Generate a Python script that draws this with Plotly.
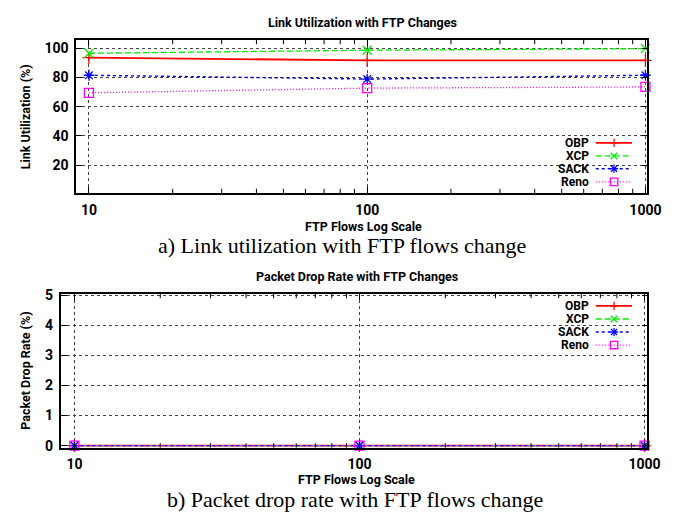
import plotly.graph_objects as go

W, H = 694, 515

flows = [10, 100, 1000]
series_names = ["OBP", "XCP", "SACK", "Reno"]
util_obp = [93.5, 91.7, 91.7]
util_xcp = [96.5, 98.6, 99.7]
util_sack = [81.5, 78.9, 81.5]
util_reno = [69.5, 72.7, 73.5]
drop_obp = [0, 0, 0]
drop_xcp = [0, 0, 0]
drop_sack = [0, 0, 0]
drop_reno = [0, 0, 0]
util_ticks = [20, 40, 60, 80, 100]
drop_ticks = [0, 1, 2, 3, 4, 5]
x_ticks = [10, 100, 1000]
x_minor_ticks = [20, 30, 40, 50, 60, 70, 80, 90, 200, 300, 400, 500, 600, 700, 800, 900]

colors = ["#ff0000", "#00ee00", "#0000ff", "#ff00ff"]
dashes = ["solid", "6px,3px", "3px,3px", "1px,2px"]
symbols = ["cross-thin-open", "x-thin-open", "asterisk-open", "square-open"]
widths = [1.8, 1.3, 1.4, 1.3]

SANS = "Roboto, Liberation Sans, sans-serif"
SERIF = "Liberation Serif, Times New Roman, serif"


def px(x):
    return x / W


def py(y):
    return 1 - y / H


fig = go.Figure()

top_vals = [util_obp, util_xcp, util_sack, util_reno]
bot_vals = [drop_obp, drop_xcp, drop_sack, drop_reno]
for i, name in enumerate(series_names):
    fig.add_trace(go.Scatter(
        x=flows, y=top_vals[i], name=name, mode="lines+markers",
        line=dict(color=colors[i], width=widths[i], dash=dashes[i]),
        marker=dict(symbol=symbols[i], size=9, color=colors[i],
                    line=dict(color=colors[i], width=1.3)),
        xaxis="x", yaxis="y", showlegend=False, cliponaxis=False))
for i, name in enumerate(series_names):
    fig.add_trace(go.Scatter(
        x=flows, y=bot_vals[i], name=name, mode="lines+markers",
        line=dict(color=colors[i], width=widths[i], dash=dashes[i]),
        marker=dict(symbol=symbols[i], size=9, color=colors[i],
                    line=dict(color=colors[i], width=1.3)),
        xaxis="x2", yaxis="y2", showlegend=False, cliponaxis=False))

axis_common = dict(
    showline=True, linecolor="black", linewidth=1.6, mirror="allticks",
    ticks="inside", ticklen=6, tickcolor="black", tickwidth=1.2,
    showgrid=True, gridcolor="#444444", griddash="dot", gridwidth=1,
    zeroline=False,
    tickfont=dict(family=SANS, size=14, color="black", weight="bold"),
)

fig.update_layout(
    width=W, height=H, margin=dict(l=0, r=0, t=0, b=0),
    paper_bgcolor="white", plot_bgcolor="white",
    xaxis=dict(axis_common, type="log", domain=[px(77.7), px(660.7)],
               range=[0.954, 3.007], tickmode="array", tickvals=x_ticks,
               ticktext=[str(v) for v in x_ticks],
               anchor="y", ticklabelstandoff=3),
    yaxis=dict(axis_common, domain=[py(191), py(33.7)], range=[0.9, 105.7],
               tickvals=util_ticks, anchor="x", ticklabelstandoff=3),
    xaxis2=dict(axis_common, type="log", domain=[px(62), px(660.7)],
                range=[0.952, 3.010], tickmode="array", tickvals=x_ticks,
                ticktext=[str(v) for v in x_ticks],
                anchor="y2", ticklabelstandoff=3),
    yaxis2=dict(axis_common, domain=[py(452), py(294.3)], range=[-0.065, 5.045],
                tickvals=drop_ticks, anchor="x2", ticklabelstandoff=3),
)

annotations = []
shapes = []

# minor x ticks (inside, bottom and top of each frame)
for xr, yr, frac in [("x", "y domain", 4.5 / 157.3), ("x2", "y2 domain", 4.5 / 157.7)]:
    for v in x_minor_ticks:
        shapes.append(dict(type="line", xref=xr, yref=yr, x0=v, x1=v, y0=0, y1=frac,
                           line=dict(color="black", width=1)))
        shapes.append(dict(type="line", xref=xr, yref=yr, x0=v, x1=v, y0=1 - frac, y1=1,
                           line=dict(color="black", width=1)))


def text_ann(text, x, y, size, family=SANS, bold=True, angle=0, xanchor="center"):
    annotations.append(dict(
        text=text, x=px(x), y=py(y), xref="paper", yref="paper",
        xanchor=xanchor, yanchor="middle", showarrow=False, textangle=angle,
        borderpad=0,
        font=dict(family=family, size=size, color="black", weight="bold" if bold else "normal")))


text_ann("Link Utilization with FTP Changes", 370, 15.5, 12.5)
text_ann("FTP Flows Log Scale", 371, 225, 12.5)
text_ann("a) Link utilization with FTP flows change", 349, 244.5, 22, family=SERIF, bold=False)
text_ann("Link Utilization (%)", 25.7, 113, 12.5, angle=-90)

text_ann("Packet Drop Rate with FTP Changes", 364, 276.5, 12.5)
text_ann("FTP Flows Log Scale", 364, 485, 12.5)
text_ann("b) Packet drop rate with FTP flows change", 362, 505, 22, family=SERIF, bold=False)
text_ann("Packet Drop Rate (%)", 25.7, 373, 12.5, angle=-90)

# legends (gnuplot style: text then sample)
legend_rows = {"top": [139.3, 152.8, 165.9, 179.4], "bot": [306.7, 320.1, 333.4, 346.8]}


def seg(x0, y0, x1, y1, color, width=1.3, dash="solid"):
    shapes.append(dict(type="line", xref="paper", yref="paper",
                       x0=px(x0), y0=py(y0), x1=px(x1), y1=py(y1),
                       line=dict(color=color, width=width, dash=dash)))


def marker_sample(kind, cx, cy, color):
    r = 4.2
    if kind == 0:
        seg(cx - r, cy, cx + r, cy, color)
        seg(cx, cy - r, cx, cy + r, color)
    elif kind == 1:
        seg(cx - r * 0.8, cy - r * 0.8, cx + r * 0.8, cy + r * 0.8, color)
        seg(cx - r * 0.8, cy + r * 0.8, cx + r * 0.8, cy - r * 0.8, color)
    elif kind == 2:
        seg(cx - r, cy, cx + r, cy, color)
        seg(cx, cy - r, cx, cy + r, color)
        seg(cx - r * 0.75, cy - r * 0.75, cx + r * 0.75, cy + r * 0.75, color)
        seg(cx - r * 0.75, cy + r * 0.75, cx + r * 0.75, cy - r * 0.75, color)
    else:
        shapes.append(dict(type="rect", xref="paper", yref="paper",
                           x0=px(cx - 3.8), y0=py(cy + 3.8), x1=px(cx + 3.8), y1=py(cy - 3.8),
                           line=dict(color=color, width=1.3)))


for key, rows in legend_rows.items():
    for i, name in enumerate(series_names):
        y = rows[i]
        text_ann(name, 602, y, 12, xanchor="right")
        seg(608, y, 645, y, colors[i], width=widths[i], dash=dashes[i])
        marker_sample(i, 626.7, y, colors[i])

fig.update_layout(annotations=annotations, shapes=shapes)

fig.write_html("out.html")
